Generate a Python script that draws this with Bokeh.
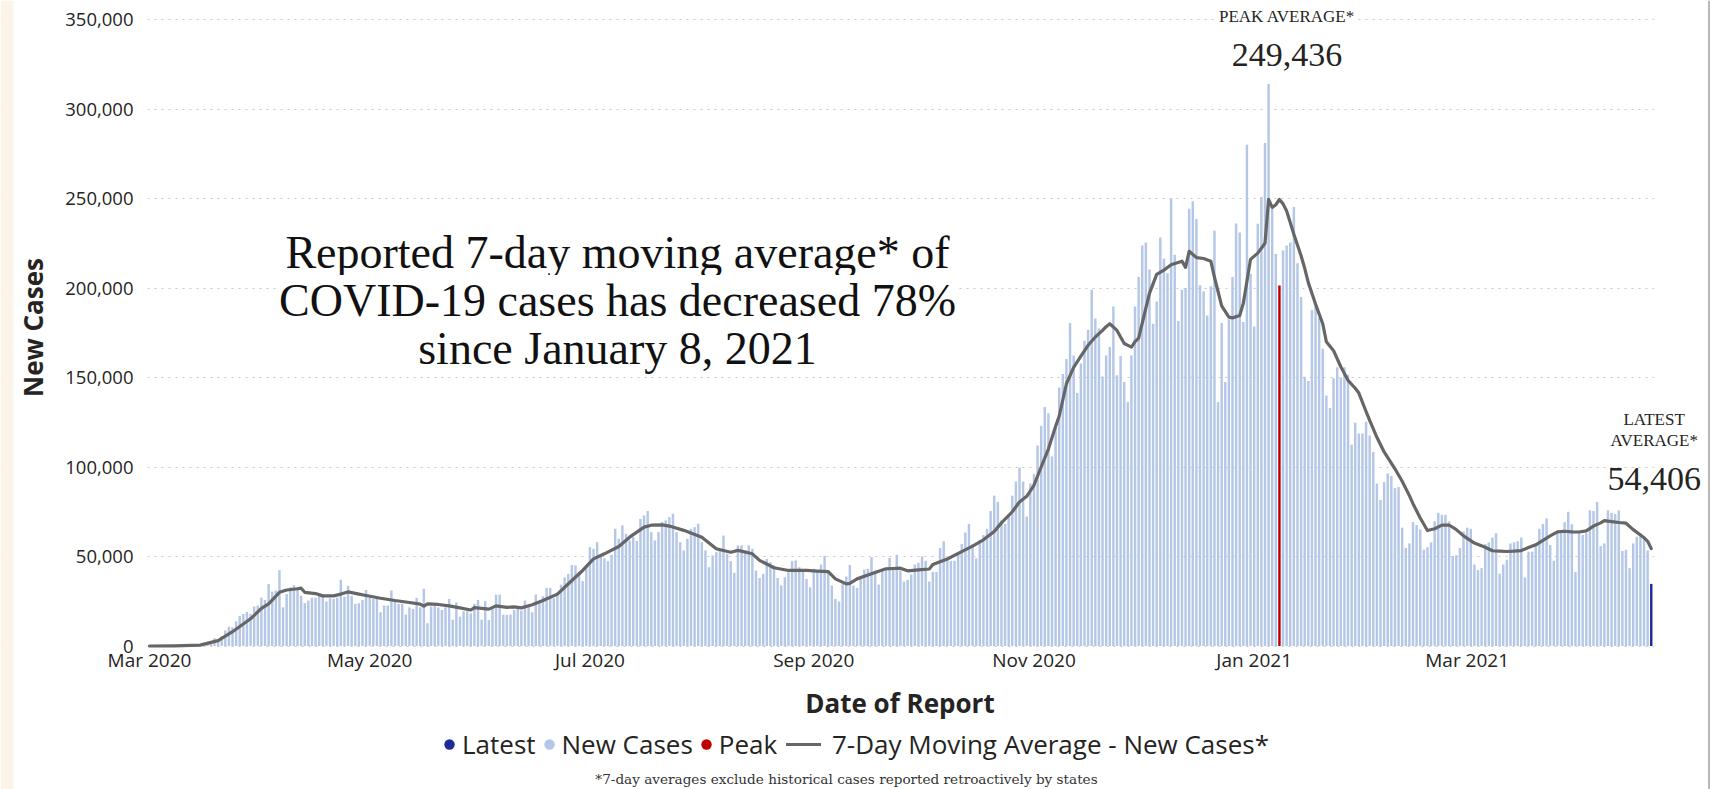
import numpy as np
import pandas as pd
from bokeh.plotting import figure
from bokeh.models import (ColumnDataSource, Range1d, FixedTicker, DatetimeTickFormatter,
                          NumeralTickFormatter, Label, Legend, LegendItem, BoxAnnotation)
from bokeh.embed import file_html
from bokeh.resources import INLINE

# ------------------------------------------------------------------ data
start_date = "2020-03-01"

cases_2020_03 = [0, 10, 20, 20, 30, 50, 70, 100, 130, 180, 250, 330, 420, 600, 800, 1100,
                 1900, 2600, 4300, 3600, 5600, 8600, 10800, 10300, 13800, 16800, 17900,
                 19000, 17900, 22000, 22600]
cases_2020_04 = [27000, 25700, 34700, 30400, 31000, 42400, 21600, 29000, 32800, 34000,
                 32800, 28000, 24000, 25400, 27000, 27000, 29000, 28000, 24800, 26700,
                 26300, 27000, 37000, 27600, 33600, 28000, 23500, 23900, 25700, 31300]
cases_2020_05 = [27000, 26300, 27600, 18800, 22600, 22600, 31000, 25400, 23500, 23500,
                 17500, 21600, 20700, 26900, 21600, 32000, 12700, 22000, 22600, 21600,
                 20100, 21600, 26300, 14700, 24400, 16400, 19400, 19400, 18300, 23500, 25700]
cases_2020_06 = [14700, 25000, 14600, 21300, 28700, 28700, 17500, 17300, 17500, 20100,
                 21300, 19800, 25400, 22600, 18800, 28700, 25000, 27800, 32500, 32500,
                 26700, 30000, 34300, 38400, 40300, 45300, 45000, 41600, 36200, 44400]
cases_2020_07 = [55200, 54300, 58000, 51000, 49000, 47400, 51000, 65500, 59900, 67400,
                 62700, 59000, 60800, 58600, 71000, 73000, 75400, 63600, 59000, 63600,
                 69300, 70200, 72000, 73900, 63600, 58000, 53400, 59900, 65500, 66400, 68300]
cases_2020_08 = [58000, 53400, 44000, 50600, 52400, 53400, 61700, 51500, 47400, 40900,
                 56200, 56200, 53400, 56200, 54300, 42200, 38000, 40300, 48700, 46800,
                 45000, 38000, 33800, 38400, 41200, 47400, 47800, 44000, 42200, 37500, 32800]
cases_2020_09 = [43100, 42200, 45500, 50400, 42200, 33800, 26300, 24800, 34700, 38800,
                 45300, 33800, 32500, 38400, 42700, 43100, 49600, 42200, 34300, 41800,
                 42200, 49200, 42500, 51000, 42200, 36000, 37000, 40000, 45500, 46500]
cases_2020_10 = [50000, 47600, 36000, 41400, 41400, 54800, 58500, 48600, 47600, 47600,
                 51700, 57000, 63400, 68200, 56900, 49000, 59300, 62000, 65500, 75400,
                 84000, 80500, 70200, 68200, 73300, 84000, 91900, 99700, 91900, 72300, 90800]
cases_2020_11 = [96000, 112000, 123000, 133500, 130000, 105900, 122800, 144400, 152000,
                 160300, 180500, 162300, 141300, 157800, 170600, 176700, 199000, 183000,
                 177400, 150600, 162300, 167000, 189700, 151200, 162000, 147500, 136200,
                 162300, 189700, 206200]
cases_2020_12 = [223700, 225400, 210300, 180000, 192400, 228200, 216500, 208300, 250000,
                 218600, 181500, 199000, 200000, 244300, 248400, 238500, 201500, 198000,
                 184600, 201000, 232000, 136200, 180500, 147500, 182500, 206200, 236000,
                 231000, 181000, 280000, 208000]
cases_2021_01 = [178500, 235900, 250800, 281000, 314000, 244300, 219000, 201400, 221000,
                 223700, 225400, 245300, 213800, 195000, 150400, 148000, 187700, 189700,
                 183500, 166000, 139900, 133000, 149600, 155700, 150000, 155700, 151600,
                 112500, 124800, 118700, 118700]
cases_2021_02 = [125200, 117600, 108400, 90800, 81600, 91500, 96400, 95000, 88200, 88800,
                 66100, 54800, 57300, 69200, 67600, 65100, 53800, 55200, 57900, 69600,
                 74400, 73300, 73300, 69600, 50300, 50700, 54800, 64000]
cases_2021_03 = [66100, 65500, 45500, 42400, 43500, 56900, 57900, 60600, 63000, 40400,
                 45500, 48200, 57300, 57900, 58500, 60600, 38300, 52700, 52700, 55800,
                 65500, 68200, 71300, 56400, 47600, 64000, 63400, 69200, 75000, 68000, 41400]
cases_2021_04 = [63000, 62000, 63000, 75800, 75400, 80500, 55800, 57300, 75800, 74400,
                 73700, 75800, 53100, 53800, 43500, 57300, 61000, 63000, 60000, 53400, 34700]

new_cases = (cases_2020_03 + cases_2020_04 + cases_2020_05 + cases_2020_06 + cases_2020_07
             + cases_2020_08 + cases_2020_09 + cases_2020_10 + cases_2020_11 + cases_2020_12
             + cases_2021_01 + cases_2021_02 + cases_2021_03 + cases_2021_04)

peak_date = "2021-01-08"
peak_average = 249436
latest_average = 54406

ma_dates = [
    "2020-03-01", "2020-03-08", "2020-03-15", "2020-03-20", "2020-03-24", "2020-03-29",
    "2020-04-01", "2020-04-03", "2020-04-06", "2020-04-08", "2020-04-11", "2020-04-12",
    "2020-04-13", "2020-04-16", "2020-04-18", "2020-04-21", "2020-04-23", "2020-04-25",
    "2020-04-28", "2020-04-30", "2020-05-04", "2020-05-08", "2020-05-12", "2020-05-15",
    "2020-05-16", "2020-05-17", "2020-05-20", "2020-05-23", "2020-05-26", "2020-05-29",
    "2020-05-30", "2020-06-01", "2020-06-03", "2020-06-05", "2020-06-08", "2020-06-10",
    "2020-06-12", "2020-06-15", "2020-06-18", "2020-06-22", "2020-06-26", "2020-06-29",
    "2020-07-02", "2020-07-05", "2020-07-09", "2020-07-12", "2020-07-14", "2020-07-16",
    "2020-07-18", "2020-07-21", "2020-07-23", "2020-07-27", "2020-08-01", "2020-08-05",
    "2020-08-09", "2020-08-11", "2020-08-15", "2020-08-17", "2020-08-21", "2020-08-25",
    "2020-08-28", "2020-08-30", "2020-09-02", "2020-09-05", "2020-09-07", "2020-09-10",
    "2020-09-11", "2020-09-13", "2020-09-17", "2020-09-21", "2020-09-23", "2020-09-25",
    "2020-09-27", "2020-09-30", "2020-10-03", "2020-10-04", "2020-10-08", "2020-10-12",
    "2020-10-15", "2020-10-18", "2020-10-21", "2020-10-23", "2020-10-26", "2020-10-28",
    "2020-10-30", "2020-11-01", "2020-11-03", "2020-11-05", "2020-11-07", "2020-11-08",
    "2020-11-10", "2020-11-12", "2020-11-14", "2020-11-16", "2020-11-18", "2020-11-20",
    "2020-11-21", "2020-11-22", "2020-11-24", "2020-11-26", "2020-11-28", "2020-11-29",
    "2020-11-30", "2020-12-02", "2020-12-03", "2020-12-05", "2020-12-07", "2020-12-09",
    "2020-12-12", "2020-12-13", "2020-12-14", "2020-12-16", "2020-12-18", "2020-12-20",
    "2020-12-21", "2020-12-23", "2020-12-25", "2020-12-26", "2020-12-28", "2020-12-29",
    "2020-12-31", "2021-01-02", "2021-01-04", "2021-01-05", "2021-01-06", "2021-01-07",
    "2021-01-08", "2021-01-09", "2021-01-10", "2021-01-12", "2021-01-14", "2021-01-15",
    "2021-01-16", "2021-01-18", "2021-01-20", "2021-01-21", "2021-01-23", "2021-01-25",
    "2021-01-27", "2021-01-29", "2021-01-30", "2021-02-01", "2021-02-02", "2021-02-04",
    "2021-02-06", "2021-02-09", "2021-02-11", "2021-02-13", "2021-02-14", "2021-02-16",
    "2021-02-18", "2021-02-20", "2021-02-22", "2021-02-24", "2021-02-26", "2021-02-28",
    "2021-03-03", "2021-03-06", "2021-03-08", "2021-03-10", "2021-03-12", "2021-03-14",
    "2021-03-16", "2021-03-18", "2021-03-20", "2021-03-22", "2021-03-24", "2021-03-26",
    "2021-03-28", "2021-03-30", "2021-04-01", "2021-04-03", "2021-04-05", "2021-04-07",
    "2021-04-08", "2021-04-10", "2021-04-12", "2021-04-14", "2021-04-16", "2021-04-18",
    "2021-04-19", "2021-04-20", "2021-04-21",
]
ma_values = [
    0, 100, 500, 3000, 8000, 15200,
    21000, 23500, 30000, 31300, 32000, 32300,
    30000, 29300, 28000, 28000, 29000, 30200,
    29000, 28200, 26700, 25400, 24300, 23400,
    22300, 23500, 23200, 22400, 21300, 20100,
    21400, 21000, 20600, 22400, 21600, 21900,
    21300, 23000, 25400, 29000, 36600, 42200,
    48700, 51500, 55600, 60800, 63600, 66400,
    67500, 67700, 67000, 64600, 60800, 54300,
    52400, 53400, 51500, 47800, 43700, 42200,
    42300, 42200, 41800, 41500, 37500, 34700,
    35000, 37500, 40300, 43100, 43300, 43500,
    42000, 42500, 43000, 45500, 48600, 52700,
    55800, 59300, 64000, 68800, 75000, 80500,
    83600, 89800, 100000, 110000, 122800, 128500,
    146500, 155700, 162000, 168000, 172600, 176300,
    178400, 180000, 176300, 169000, 167000, 170000,
    172000, 188700, 197000, 207600, 210000, 213000,
    215000, 211500, 220500, 217000, 216500, 215000,
    206000, 190000, 183700, 183300, 184600, 191500,
    216000, 219500, 225000, 249500, 245000, 246500,
    249436, 247000, 243000, 230000, 218000, 211000,
    203000, 191000, 180000, 170000, 165000, 156000,
    148400, 144000, 141300, 131000, 126000, 116600,
    108400, 99000, 92000, 84000, 79500, 71500,
    64500, 65500, 67500, 67600, 65000, 61500,
    57500, 55200, 53200, 53000, 52800, 53000,
    53300, 55000, 56500, 59000, 61500, 63800,
    64100, 63800, 63700, 64300, 67000, 68800,
    70000, 69500, 69000, 68600, 65000, 62000,
    60500, 58500, 54406,
]

x_tick_dates = ["2020-03-01", "2020-05-01", "2020-07-01", "2020-09-01",
                "2020-11-01", "2021-01-01", "2021-03-01"]
y_ticks = [0, 50000, 100000, 150000, 200000, 250000, 300000, 350000]

headline_lines = ["Reported 7-day moving average* of",
                  "COVID-19 cases has decreased 78%",
                  "since January 8, 2021"]
footnote = "*7-day averages exclude historical cases reported retroactively by states"
legend_labels = ["Latest", "New Cases", "Peak", "7-Day Moving Average - New Cases*"]

# ------------------------------------------------------------------ style / layout
NEW_COLOR = "#B4C7E7"
PEAK_COLOR = "#C00000"
LATEST_COLOR = "#1C2B9B"
LINE_COLOR = "#666666"
TEXT = "#252423"
SANS = "Open Sans"
SERIF = "Liberation Serif"
DAY = 86400000.0

W, H = 1711, 789              # the whole canvas is the plotting frame
DAY0_X = 149.0                # canvas column of the first day
PX_PER_DAY = 3.61
ZERO_Y = 645.5                # canvas row of the value 0
PX = 350000 / (ZERO_Y - 19.0)  # data units per pixel


def ms(t):
    return pd.Timestamp(t).value / 1e6


t0 = ms(start_date)


def xv(cx):
    return t0 + (cx - DAY0_X) / PX_PER_DAY * DAY


def yv(cy):
    return (ZERO_Y - cy) * PX


dates = pd.date_range(start_date, periods=len(new_cases), freq="D")
x_ms = np.array([ms(d) for d in dates])
vals = np.array(new_cases, dtype=float)
is_peak = np.array([d == pd.Timestamp(peak_date) for d in dates])
is_latest = np.arange(len(dates)) == len(dates) - 1
is_new = ~(is_peak | is_latest)

src_new = ColumnDataSource(dict(x=x_ms[is_new], top=vals[is_new]))
src_peak = ColumnDataSource(dict(x=x_ms[is_peak], top=vals[is_peak]))
src_latest = ColumnDataSource(dict(x=x_ms[is_latest], top=vals[is_latest]))
src_ma = ColumnDataSource(dict(x=[ms(d) for d in ma_dates], y=ma_values))

data_end = x_ms[-1] + 0.85 * DAY

p = figure(width=W, height=H, output_backend="svg", toolbar_location=None,
           x_axis_type="datetime",
           x_range=Range1d(xv(0), xv(W)), y_range=Range1d(yv(H), yv(0)),
           min_border_left=0, min_border_right=0, min_border_top=0, min_border_bottom=0)
p.outline_line_color = None
p.background_fill_color = "white"
p.border_fill_color = "white"

# axes, pinned inside the canvas
yax = p.yaxis[0]
yax.ticker = FixedTicker(ticks=y_ticks)
yax.formatter = NumeralTickFormatter(format="0,0")
yax.fixed_location = xv(147)
yax.bounds = (0, yv(8))
xax = p.xaxis[0]
xax.ticker = FixedTicker(ticks=[ms(t) for t in x_tick_dates])
xax.formatter = DatetimeTickFormatter(days="%b %Y", months="%b %Y", years="%b %Y")
xax.fixed_location = 0
xax.bounds = (xv(147), xv(1652))
for ax in (xax, yax):
    ax.axis_line_color = None
    ax.major_tick_line_color = None
    ax.minor_tick_line_color = None
    ax.major_tick_out = 0
    ax.major_tick_in = 0
    ax.minor_tick_out = 0
    ax.minor_tick_in = 0
    ax.major_label_text_font = SANS
    ax.major_label_text_color = TEXT
    ax.axis_label_text_font = SANS
    ax.axis_label_text_font_size = "26px"
    ax.axis_label_text_font_style = "bold"
    ax.axis_label_text_color = TEXT
yax.major_label_text_font_size = "18.5px"
xax.major_label_text_font_size = "19px"
yax.axis_label = "New Cases"
yax.major_label_standoff = 14
yax.axis_label_standoff = 11
xax.axis_label = "Date of Report"
xax.major_label_standoff = 1
xax.axis_label_standoff = 8

p.xgrid.visible = False
p.ygrid.grid_line_color = "#C8C8C8"
p.ygrid.grid_line_dash = "2 5"
p.ygrid.grid_line_width = 1

# grid lines only across the data area; page decorations
p.add_layout(BoxAnnotation(right=xv(147), fill_color="white", fill_alpha=1.0,
                           line_color=None, level="underlay"))
p.add_layout(BoxAnnotation(left=data_end, fill_color="white", fill_alpha=1.0,
                           line_color=None, level="underlay"))
p.add_layout(BoxAnnotation(right=xv(13), fill_color="#FCF4E8", fill_alpha=1.0,
                           line_color=None, level="underlay"))
p.add_layout(BoxAnnotation(left=xv(1707.5), right=xv(1709.5), fill_color="#B8B8B8",
                           fill_alpha=1.0, line_color=None, level="underlay"))

BW = 0.68 * DAY
p.vbar(x="x", top="top", bottom=0, width=BW, source=src_new, fill_color=NEW_COLOR, line_color=None)
p.vbar(x="x", top="top", bottom=0, width=BW, source=src_peak, fill_color=PEAK_COLOR, line_color=None)
p.vbar(x="x", top="top", bottom=0, width=BW, source=src_latest, fill_color=LATEST_COLOR, line_color=None)
r_ma = p.line(x="x", y="y", source=src_ma, line_color=LINE_COLOR, line_width=3.2,
              line_join="round", line_cap="round")


def note(text, x, cy, size, font=SERIF, color=TEXT, bg="white"):
    p.add_layout(Label(x=x, y=yv(cy), text=text, text_align="center",
                       text_baseline="middle", text_font=font,
                       text_font_size=size, text_color=color,
                       background_fill_color=bg))


head_x = xv(617)
for txt, cy in zip(headline_lines, [252, 300, 348]):
    note(txt, head_x, cy, "46px", color="#111111")

peak_x = ms(peak_date) + 2.1 * DAY
note("PEAK AVERAGE*", peak_x, 15.5, "17px")
note(f"{peak_average:,}", peak_x, 54.5, "34px")

lat_x = x_ms[-1] + 0.8 * DAY
note("LATEST", lat_x, 418.5, "17px")
note("AVERAGE*", lat_x, 439.5, "17px")
note(f"{latest_average:,}", lat_x, 478.5, "34px")

note(footnote, xv(846), 778, "13.6px", font="DejaVu Serif", color="#333333", bg=None)

# legend (circle swatches; nothing drawn in the plot)
nan_src = ColumnDataSource(dict(x=[np.nan], y=[np.nan]))
g_lat = p.scatter("x", "y", source=nan_src, marker="circle", size=10, fill_color=LATEST_COLOR, line_color=None)
g_new = p.scatter("x", "y", source=nan_src, marker="circle", size=10, fill_color=NEW_COLOR, line_color=None)
g_peak = p.scatter("x", "y", source=nan_src, marker="circle", size=10, fill_color=PEAK_COLOR, line_color=None)

legend_style = dict(orientation="horizontal", glyph_height=28, label_height=28,
                    label_text_font=SANS, label_text_font_size="26px",
                    label_text_color=TEXT, margin=0, padding=0, border_line_color=None,
                    background_fill_alpha=0)
dots_legend = Legend(items=[LegendItem(label=legend_labels[0], renderers=[g_lat]),
                            LegendItem(label=legend_labels[1], renderers=[g_new]),
                            LegendItem(label=legend_labels[2], renderers=[g_peak])],
                     location=(436, 27), glyph_width=26, label_standoff=0, spacing=0,
                     **legend_style)
line_legend = Legend(items=[LegendItem(label=legend_labels[3], renderers=[r_ma])],
                     location=(786, 27), glyph_width=35, label_standoff=11, spacing=0,
                     **legend_style)
p.add_layout(dots_legend, "center")
p.add_layout(line_legend, "center")

open("out.html", "w").write(file_html(p, INLINE))
